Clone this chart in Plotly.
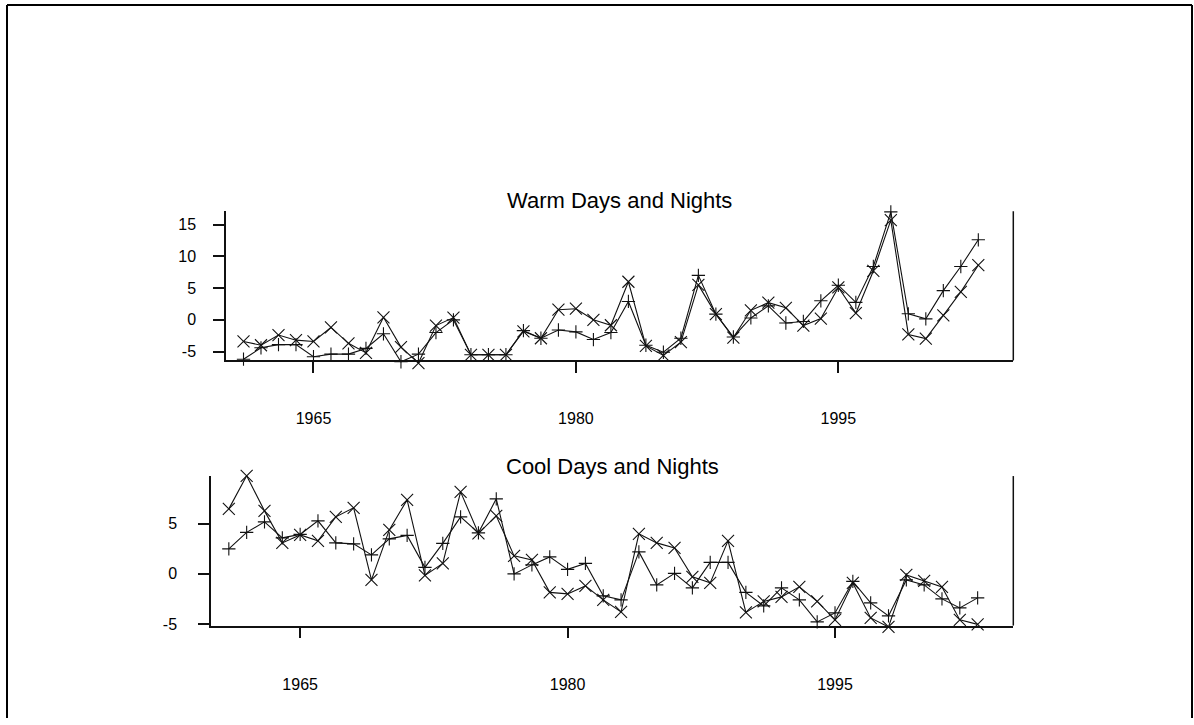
import plotly.graph_objects as go

years = [1961, 1962, 1963, 1964, 1965, 1966, 1967, 1968, 1969, 1970,
         1971, 1972, 1973, 1974, 1975, 1976, 1977, 1978, 1979, 1980,
         1981, 1982, 1983, 1984, 1985, 1986, 1987, 1988, 1989, 1990,
         1991, 1992, 1993, 1994, 1995, 1996, 1997, 1998, 1999, 2000,
         2001, 2002, 2003]

warm_x = [-3.4, -4.0, -2.4, -3.2, -3.4, -1.2, -3.7, -5.2, 0.4, -4.3,
          -6.8, -0.9, 0.35, -5.5, -5.5, -5.5, -1.8, -2.9, 1.6, 1.75,
          0.0, -0.85, 6.0, -4.1, -5.6, -3.5, 5.5, 0.9, -2.8, 1.5,
          2.7, 1.9, -0.9, 0.2, 5.1, 1.05, 7.7, 15.7, -2.3, -2.95,
          0.7, 4.4, 8.6]
warm_plus = [-6.2, -4.4, -3.9, -3.9, -5.8, -5.4, -5.4, -4.5, -2.2, -6.6,
             -5.4, -2.0, 0.0, -5.5, -5.5, -5.5, -1.7, -2.9, -1.6, -1.9,
             -3.1, -2.0, 2.9, -4.0, -5.1, -2.9, 7.0, 0.9, -2.7, 0.3,
             2.2, -0.5, -0.25, 3.0, 5.45, 2.75, 8.4, 17.0, 0.95, 0.15,
             4.6, 8.4, 12.6]

cool_x = [6.5, 9.8, 6.3, 3.1, 3.9, 3.3, 5.7, 6.6, -0.6, 4.4,
          7.4, -0.15, 1.05, 8.2, 4.05, 5.8, 1.8, 1.4, -1.85, -2.0,
          -1.2, -2.6, -3.8, 4.0, 3.1, 2.6, -0.3, -0.9, 3.3, -3.85,
          -2.75, -2.3, -1.3, -2.75, -4.6, -0.9, -4.4, -5.3, -0.1, -0.7,
          -1.3, -4.6, -5.05]
cool_plus = [2.5, 4.15, 5.2, 3.6, 3.95, 5.3, 3.1, 3.0, 1.9, 3.5,
             3.85, 0.65, 3.05, 5.7, 4.1, 7.5, 0.0, 0.9, 1.7, 0.45,
             1.05, -2.2, -2.6, 2.2, -1.1, 0.05, -1.4, 1.15, 1.15, -1.85,
             -3.2, -1.4, -2.6, -4.8, -3.9, -0.75, -2.9, -4.2, -0.6, -1.1,
             -2.5, -3.4, -2.4]

x_ticks = [1965, 1980, 1995]
x_ticktext = ["1965", "1980", "1995"]
warm_yticks = [-5, 0, 5, 10, 15]
warm_yticktext = ["-5", "0", "5", "10", "15"]
cool_yticks = [-5, 0, 5]
cool_yticktext = ["-5", "0", "5"]

titles = ["Warm Days and Nights", "Cool Days and Nights"]

W, H = 1194, 725
FONT = "Liberation Sans, Arial, Helvetica, sans-serif"
INK = "#111111"


def px_x(v):
    return v / W


def px_y(v):
    return 1 - v / H


# panel geometry (pixels) and visible value ranges
TOP_BOX = dict(left=226, right=1013.3, top=213.3, bottom=364, ymin=-6.4, ymax=17.1)
BOT_BOX = dict(left=211, right=1013.3, top=480.7, bottom=631.7, ymin=-5.17, ymax=9.78)
XR = [1960, 2005]


def wide_axis(box, top_px, bottom_px):
    """Invisible axis with the same px/unit scale but a taller domain, so
    marks just outside the drawn box are not clipped."""
    k = (box["bottom"] - box["top"]) / (box["ymax"] - box["ymin"])
    lo = box["ymin"] - (bottom_px - box["bottom"]) / k
    hi = box["ymax"] + (box["top"] - top_px) / k
    return dict(domain=[px_y(bottom_px), px_y(top_px)], range=[lo, hi],
                visible=False, showgrid=False, zeroline=False, fixedrange=True)


fig = go.Figure()

# empty traces so that the visible frame subplots exist
fig.add_trace(go.Scatter(x=[], y=[], xaxis="x", yaxis="y", showlegend=False,
                         hoverinfo="skip"))
fig.add_trace(go.Scatter(x=[], y=[], xaxis="x2", yaxis="y2", showlegend=False,
                         hoverinfo="skip"))


def add_pair(xa, ya, s_x, s_plus):
    fig.add_trace(go.Scatter(
        x=years, y=s_plus, xaxis=xa, yaxis=ya, mode="lines+markers",
        line=dict(color=INK, width=1.1),
        marker=dict(symbol="cross-thin", size=9.5, color=INK,
                    line=dict(color=INK, width=1.1)),
        cliponaxis=False, showlegend=False))
    fig.add_trace(go.Scatter(
        x=years, y=s_x, xaxis=xa, yaxis=ya, mode="lines+markers",
        line=dict(color=INK, width=1.1),
        marker=dict(symbol="x-thin", size=12, color=INK,
                    line=dict(color=INK, width=1.1)),
        cliponaxis=False, showlegend=False))


add_pair("x", "y3", warm_x, warm_plus)
add_pair("x2", "y4", cool_x, cool_plus)

axis_common = dict(showgrid=False, zeroline=False, showline=True,
                   linecolor=INK, linewidth=1.5, ticks="outside",
                   ticklen=11, tickwidth=1.5, tickcolor=INK,
                   tickfont=dict(family=FONT, size=16, color="#000"))

fig.update_layout(
    width=W, height=H,
    margin=dict(l=0, r=0, t=0, b=0),
    paper_bgcolor="white", plot_bgcolor="rgba(0,0,0,0)",
    showlegend=False,
    xaxis=dict(domain=[px_x(TOP_BOX["left"]), px_x(TOP_BOX["right"])], range=XR,
               tickvals=x_ticks, ticktext=x_ticktext, anchor="y",
               ticklabelstandoff=32, **axis_common),
    yaxis=dict(domain=[px_y(TOP_BOX["bottom"]), px_y(TOP_BOX["top"])],
               range=[TOP_BOX["ymin"], TOP_BOX["ymax"]],
               tickvals=warm_yticks, ticktext=warm_yticktext, anchor="x",
               ticklabelstandoff=14, **axis_common),
    xaxis2=dict(domain=[px_x(BOT_BOX["left"]), px_x(BOT_BOX["right"])], range=XR,
                tickvals=x_ticks, ticktext=x_ticktext, anchor="y2",
                ticklabelstandoff=32, **axis_common),
    yaxis2=dict(domain=[px_y(BOT_BOX["bottom"]), px_y(BOT_BOX["top"])],
                range=[BOT_BOX["ymin"], BOT_BOX["ymax"]],
                tickvals=cool_yticks, ticktext=cool_yticktext, anchor="x2",
                ticklabelstandoff=18, **axis_common),
    yaxis3=dict(anchor="x", **wide_axis(TOP_BOX, 195, 385)),
    yaxis4=dict(anchor="x2", **wide_axis(BOT_BOX, 462, 652)),
)

# right-hand side of the "u" shaped box
for xd, yd in (("x domain", "y domain"), ("x2 domain", "y2 domain")):
    fig.add_shape(type="line", xref=xd, yref=yd, x0=1, x1=1, y0=0, y1=1,
                  line=dict(color=INK, width=1.5))

# page border
fig.add_shape(type="line", xref="paper", yref="paper",
              x0=px_x(7), x1=px_x(7), y0=0, y1=px_y(5),
              line=dict(color="#000", width=2))
fig.add_shape(type="line", xref="paper", yref="paper",
              x0=px_x(7), x1=px_x(1192), y0=px_y(5), y1=px_y(5),
              line=dict(color="#000", width=2))
fig.add_shape(type="line", xref="paper", yref="paper",
              x0=px_x(1192), x1=px_x(1192), y0=0, y1=px_y(5),
              line=dict(color="#000", width=2))

fig.add_annotation(text=titles[0], xref="paper", yref="paper",
                   x=px_x(619.7), y=px_y(202.5), xanchor="center",
                   yanchor="middle", showarrow=False,
                   font=dict(family=FONT, size=22, color="#000"))
fig.add_annotation(text=titles[1], xref="paper", yref="paper",
                   x=px_x(612.2), y=px_y(471), xanchor="center",
                   yanchor="middle", showarrow=False,
                   font=dict(family=FONT, size=22, color="#000"))

fig.write_html("out.html")
